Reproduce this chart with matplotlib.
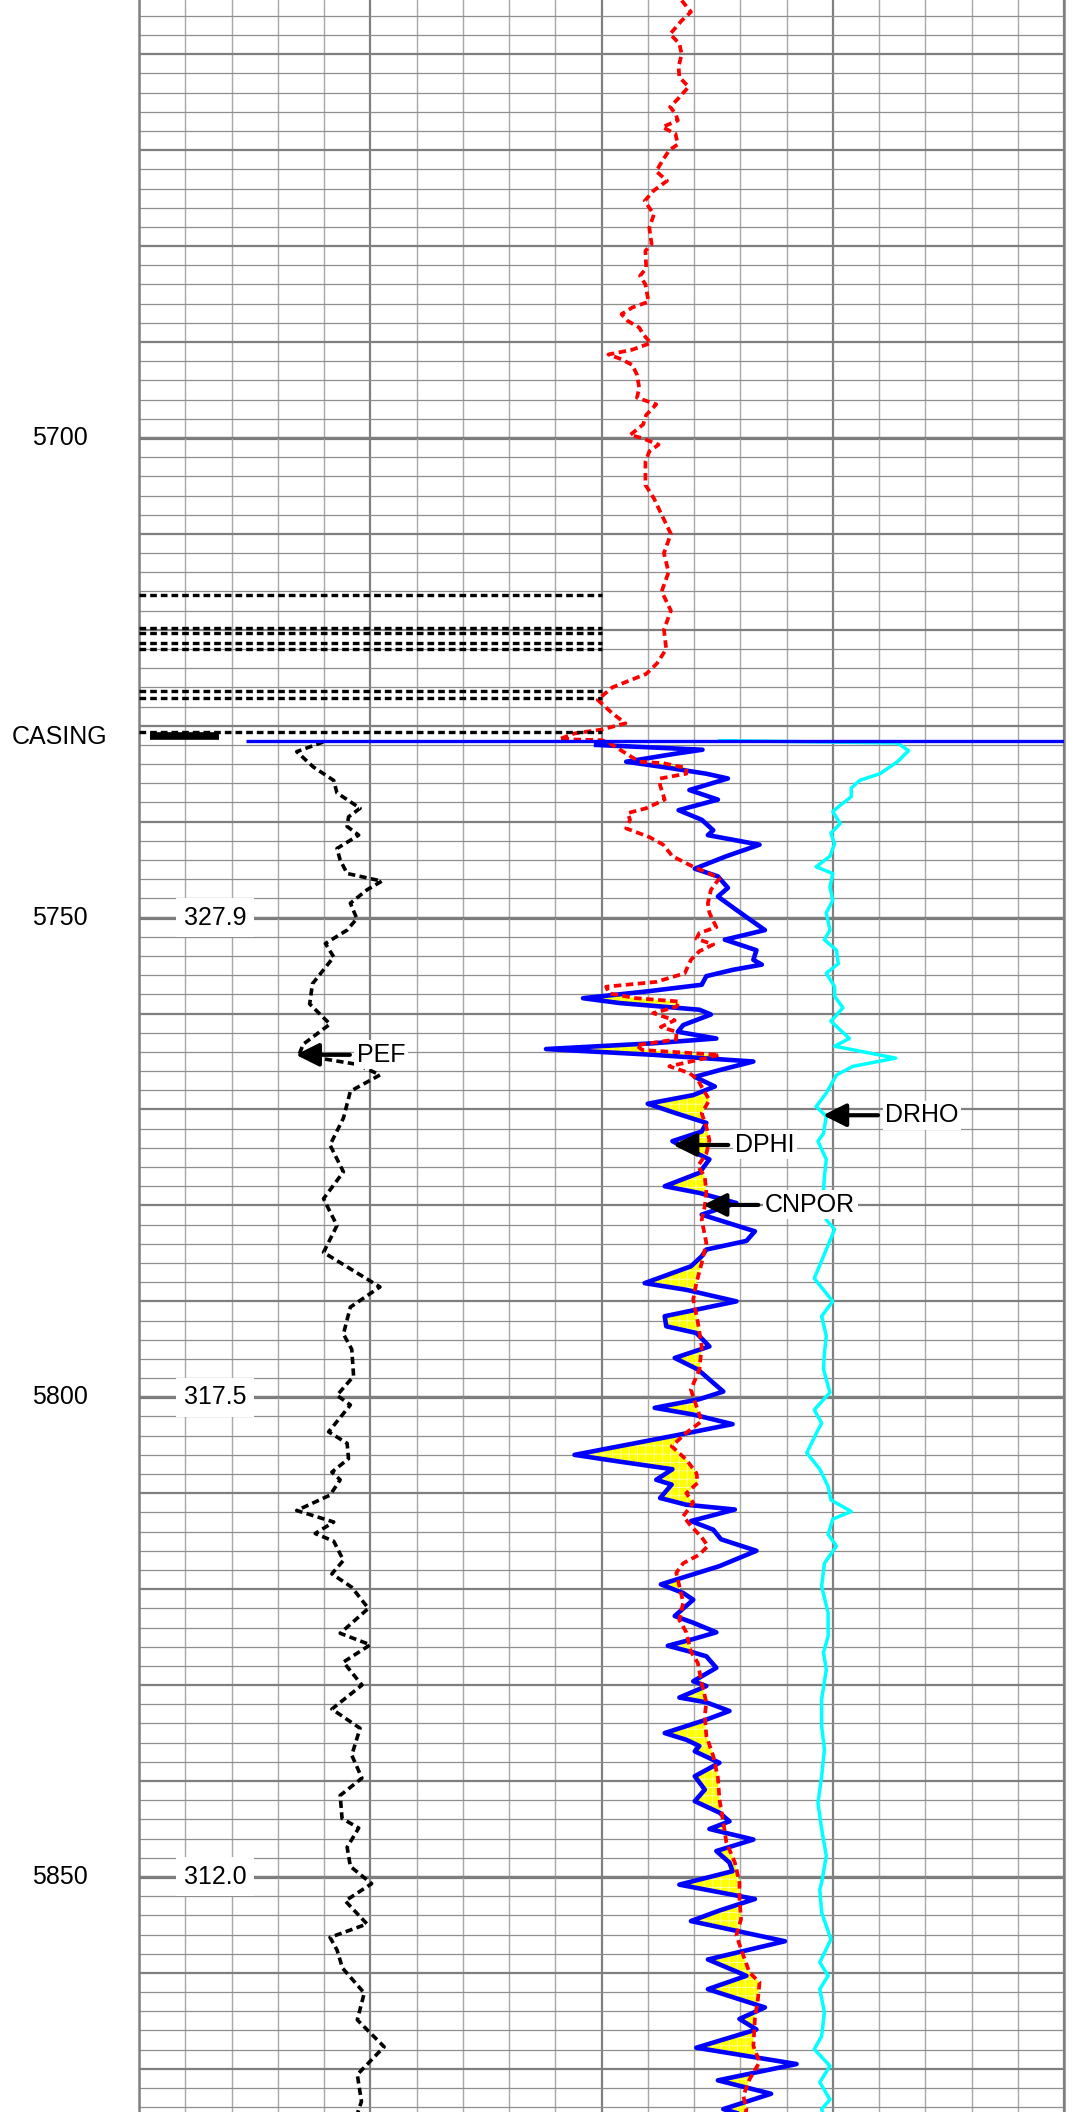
import numpy as np
import matplotlib.pyplot as plt
from matplotlib.ticker import MultipleLocator

plt.rcParams['font.family'] = ['Liberation Sans', 'DejaVu Sans']
plt.rcParams['hatch.linewidth'] = 0.6

top_depth, bottom_depth = 5654.35, 5874.5
casing_depth = 5731.55
depth_labels = [5700, 5750, 5800, 5850]
tension_labels = ['327.9', '317.5', '312.0']
tension_depths = [5750, 5800, 5850]
casing_wrap_depths = [5716.4, 5719.8, 5720.3, 5721.35, 5722.0, 5726.4, 5727.15, 5730.6]

# neutron porosity (%), scale 45 -> -15
cnpor_depth = [5654.4, 5655.6, 5656.5, 5657.9, 5658.9, 5660.0, 5661.3, 5662.4, 5663.4, 5664.5,
               5665.5, 5666.2, 5666.9, 5667.6, 5668.3, 5669.4, 5670.0, 5671.1, 5672.2, 5673.2,
               5674.2, 5675.3, 5676.7, 5678.1, 5679.8, 5680.5, 5682.3, 5683.1, 5684.0, 5685.8,
               5686.4, 5687.1, 5687.8, 5688.5, 5689.2, 5690.1, 5690.8, 5691.3, 5691.8, 5692.4,
               5693.4, 5694.8, 5695.8, 5696.5, 5697.6, 5698.6, 5699.7, 5700.0, 5700.7, 5701.4,
               5702.5, 5703.9, 5704.9, 5706.3, 5708.0, 5710.0, 5712.0, 5714.0, 5716.0, 5718.0,
               5720.0, 5722.0, 5723.5, 5724.6, 5726.0, 5727.3, 5728.7, 5729.75, 5730.4, 5730.8,
               5731.4, 5731.5, 5731.8, 5732.9, 5733.75, 5733.9, 5734.4, 5735.0, 5735.5, 5736.2,
               5737.7, 5738.6, 5739.1, 5739.8, 5740.7, 5741.6, 5742.4, 5743.6, 5744.7, 5745.4,
               5745.9, 5747.1, 5748.5, 5749.5, 5751.0, 5751.6, 5752.2, 5752.8, 5753.5, 5754.4,
               5755.8, 5756.7, 5757.2, 5757.9, 5758.4, 5758.75, 5759.3, 5759.96, 5760.7, 5761.4,
               5761.9, 5762.7, 5763.3, 5763.8, 5764.3, 5764.8, 5765.5, 5766.2, 5766.9, 5767.8,
               5769.0, 5770.4, 5771.8, 5773.2, 5774.6, 5775.9, 5777.0, 5778.7, 5780.1, 5781.5,
               5783.9, 5786.0, 5788.1, 5789.8, 5792.2, 5794.7, 5797.1, 5799.2, 5800.9, 5802.5,
               5803.7, 5805.1, 5806.5, 5807.9, 5808.9, 5810.0, 5811.0, 5812.4, 5813.4, 5814.6,
               5815.5, 5816.4, 5817.3, 5818.3, 5819.7, 5821.4, 5823.2, 5824.5, 5826.5, 5827.7,
               5829.8, 5831.8, 5833.2, 5835.3, 5837.4, 5839.65, 5841.9, 5844.3, 5846.4, 5848.5,
               5850.6, 5852.3, 5854.4, 5856.1, 5858.2, 5859.96, 5861.0, 5862.7, 5864.8, 5867.6,
               5869.3, 5871.1, 5872.8, 5874.2, 5875.0]
cnpor = [34.6, 33.4, 34.6, 36.1, 34.9, 34.6, 35.0, 34.9, 33.7, 34.9,
         36.1, 35.4, 35.1, 37.1, 35.4, 35.1, 36.2, 37.1, 37.9, 36.5,
         38.2, 39.4, 38.2, 38.8, 38.5, 39.3, 39.2, 40.0, 39.3, 38.9,
         41.0, 42.4, 41.6, 40.1, 39.6, 38.6, 41.0, 44.1, 42.4, 41.0,
         40.4, 40.1, 40.4, 37.9, 39.2, 39.6, 41.3, 39.8, 37.6, 38.8,
         39.3, 39.3, 39.3, 38.2, 37.2, 36.0, 36.9, 36.3, 37.2, 36.0,
         36.9, 36.6, 37.8, 39.2, 43.6, 45.5, 43.6, 41.9, 45.0, 48.5,
         50.5, 45.0, 44.0, 41.8, 40.1, 37.0, 34.0, 34.0, 37.4, 37.4,
         36.8, 39.2, 41.6, 41.3, 41.8, 38.8, 37.0, 35.8, 33.1, 31.0,
         29.7, 30.8, 31.2, 31.0, 30.1, 32.3, 32.7, 30.5, 32.3, 33.4,
         34.2, 37.9, 44.4, 44.0, 40.5, 34.9, 35.3, 38.3, 35.5, 37.3,
         35.3, 35.3, 40.5, 39.7, 29.7, 32.3, 36.2, 33.6, 32.5, 31.9,
         31.0, 32.0, 31.4, 31.0, 31.4, 32.5, 31.6, 31.4, 31.6, 32.0,
         31.4, 32.0, 32.7, 33.1, 32.5, 32.0, 32.3, 33.4, 32.7, 32.0,
         34.0, 35.9, 34.0, 32.7, 32.5, 34.0, 33.1, 34.4, 33.4, 32.0,
         31.2, 32.3, 34.4, 35.3, 34.9, 34.4, 34.9, 34.0, 33.4, 32.5,
         32.0, 31.4, 31.6, 31.4, 30.5, 29.9, 29.7, 29.2, 28.8, 27.7,
         27.1, 27.1, 26.9, 27.5, 26.6, 25.8, 24.5, 24.7, 25.1, 25.3,
         24.5, 25.8, 26.6, 26.2, 26.4]

# density porosity (%), scale 45 -> -15
dphi_depth = [5732.0, 5732.5, 5732.9, 5733.75, 5734.3, 5735.0, 5735.5, 5736.7, 5737.7, 5738.8,
              5739.8, 5740.9, 5741.4, 5742.4, 5743.6, 5744.9, 5745.7, 5746.9, 5747.8, 5749.2,
              5751.3, 5752.3, 5753.4, 5754.4, 5754.9, 5755.45, 5756.1, 5757.0, 5757.7, 5758.4,
              5758.9, 5759.6, 5760.1, 5761.2, 5761.9, 5762.6, 5763.1, 5763.7, 5764.3, 5765.0,
              5765.9, 5766.6, 5767.6, 5768.5, 5769.4, 5770.4, 5771.4, 5772.3, 5773.3, 5773.9,
              5775.2, 5776.6, 5778.0, 5778.7, 5779.75, 5780.96, 5782.7, 5783.7, 5784.6, 5785.3,
              5786.35, 5788.1, 5788.8, 5790.0, 5791.55, 5792.6, 5793.3, 5794.7, 5795.9, 5797.1,
              5799.4, 5800.2, 5801.1, 5801.8, 5802.8, 5803.9, 5806.0, 5806.7, 5807.5, 5808.6,
              5809.1, 5810.5, 5811.2, 5811.7, 5812.9, 5813.8, 5814.8, 5816.0, 5817.6, 5819.5,
              5820.4, 5821.1, 5822.8, 5823.5, 5824.5, 5825.2, 5825.9, 5826.6, 5827.0, 5828.2,
              5829.6, 5830.1, 5831.3, 5831.8, 5832.7, 5833.6, 5835.0, 5835.7, 5836.35, 5836.9,
              5838.1, 5839.5, 5840.9, 5842.1, 5843.3, 5844.2, 5845.0, 5846.1, 5847.3, 5848.5,
              5849.4, 5850.8, 5852.3, 5853.5, 5854.6, 5856.7, 5858.6, 5860.3, 5861.7, 5863.6,
              5864.8, 5865.9, 5867.8, 5869.5, 5871.2, 5872.6, 5874.2, 5875.0]
dphi = [45.7, 31.9, 35.3, 41.8, 37.0, 31.4, 28.6, 33.6, 29.9, 35.0,
        32.0, 30.5, 31.2, 24.5, 28.8, 32.9, 29.9, 28.6, 29.9, 27.5,
        23.8, 29.0, 24.9, 25.3, 24.2, 28.0, 31.4, 32.0, 39.2, 47.4,
        42.7, 32.3, 30.8, 34.4, 35.1, 30.1, 38.3, 52.2, 38.3, 25.3,
        29.7, 32.9, 30.3, 33.1, 39.0, 35.3, 31.4, 32.0, 35.8, 34.4,
        31.0, 32.3, 36.8, 32.3, 27.5, 32.0, 25.1, 26.2, 31.4, 32.0,
        33.4, 39.4, 34.0, 27.5, 36.8, 36.6, 32.7, 31.0, 35.5, 32.5,
        29.2, 32.3, 38.1, 33.1, 28.0, 34.9, 48.5, 42.7, 35.8, 37.9,
        35.9, 37.4, 34.0, 27.7, 33.4, 30.5, 29.5, 24.9, 29.7, 37.3,
        34.4, 33.1, 35.5, 33.1, 30.1, 33.1, 36.4, 33.1, 31.4, 30.1,
        33.1, 31.4, 34.9, 31.4, 28.4, 31.4, 36.8, 34.0, 32.3, 32.9,
        29.7, 32.9, 31.6, 32.9, 29.7, 28.4, 31.0, 25.3, 30.1, 28.4,
        28.0, 34.9, 25.1, 29.7, 33.4, 21.2, 31.2, 26.2, 31.2, 23.8,
        27.1, 24.9, 32.7, 19.7, 29.9, 23.0, 29.2, 25.8]

# density correction (g/cc), scale -0.25 -> 0.25
drho_depth = [5731.55, 5731.8, 5732.6, 5733.75, 5735.0, 5735.7, 5736.5, 5737.4, 5738.3, 5738.95,
              5740.2, 5741.2, 5742.3, 5743.6, 5744.7, 5745.4, 5746.8, 5748.2, 5749.5, 5751.3,
              5752.3, 5753.4, 5754.8, 5755.8, 5757.2, 5758.2, 5759.4, 5760.8, 5762.6, 5763.4,
              5764.65, 5765.5, 5766.4, 5768.3, 5769.7, 5770.7, 5772.5, 5773.3, 5775.2, 5777.0,
              5778.4, 5781.5, 5782.5, 5785.3, 5787.6, 5788.8, 5790.0, 5791.55, 5793.6, 5795.4,
              5797.1, 5799.5, 5801.3, 5802.7, 5803.4, 5805.8, 5807.5, 5809.3, 5810.7, 5811.9,
              5812.7, 5814.3, 5815.5, 5817.3, 5819.7, 5822.5, 5824.9, 5826.6, 5828.4, 5831.5,
              5834.3, 5836.7, 5839.5, 5842.3, 5845.0, 5847.8, 5850.6, 5851.3, 5853.7, 5856.5,
              5858.9, 5860.3, 5861.7, 5864.1, 5866.6, 5867.95, 5869.7, 5871.4, 5873.2, 5874.2,
              5875.0]
drho = [-0.122, 0.070, 0.082, 0.070, 0.051, 0.029, 0.020, 0.020, 0.008, 0.000,
        0.008, -0.002, 0.002, -0.003, -0.018, 0.000, -0.003, 0.000, -0.007, -0.003,
        -0.009, 0.004, 0.006, -0.007, 0.002, 0.002, 0.011, -0.002, 0.018, 0.002,
        0.068, 0.022, 0.004, -0.007, -0.018, -0.007, -0.010, -0.016, -0.007, -0.009,
        -0.010, -0.007, 0.002, -0.010, -0.020, -0.010, 0.000, -0.012, -0.007, -0.009,
        -0.010, -0.003, -0.020, -0.012, -0.016, -0.028, -0.014, -0.005, -0.002, 0.020,
        0.000, -0.005, 0.004, -0.009, -0.012, -0.005, -0.005, -0.010, -0.007, -0.012,
        -0.012, -0.009, -0.012, -0.016, -0.012, -0.007, -0.012, -0.014, -0.012, -0.002,
        -0.014, -0.005, -0.014, -0.009, -0.012, -0.020, -0.003, -0.014, -0.003, -0.012,
        -0.010]

# photoelectric factor (b/e), scale 0 -> 10
pef_depth = [5731.7, 5732.7, 5734.3, 5735.7, 5737.0, 5737.7, 5738.6, 5739.5, 5740.5, 5741.4,
             5742.8, 5744.0, 5745.4, 5746.2, 5747.1, 5748.5, 5750.1, 5751.3, 5752.7, 5754.1,
             5756.9, 5759.0, 5761.1, 5763.2, 5764.3, 5765.3, 5766.4, 5768.1, 5770.9, 5773.7,
             5776.5, 5779.3, 5782.1, 5784.9, 5788.5, 5790.6, 5793.4, 5795.0, 5797.8, 5799.8,
             5800.8, 5803.6, 5804.8, 5806.4, 5807.8, 5808.6, 5810.2, 5811.8, 5813.0, 5814.2,
             5815.0, 5817.0, 5818.4, 5819.8, 5822.0, 5824.6, 5825.8, 5827.6, 5830.0, 5832.5,
             5834.5, 5837.3, 5839.7, 5841.5, 5843.9, 5844.9, 5846.9, 5848.9, 5850.7, 5852.5,
             5854.9, 5856.3, 5857.6, 5859.5, 5862.1, 5864.9, 5867.7, 5870.6, 5873.4, 5875.0]
pef = [3.98, 3.41, 3.77, 4.21, 4.28, 4.50, 4.78, 4.53, 4.50, 4.75,
       4.28, 4.35, 4.50, 5.25, 4.93, 4.57, 4.71, 4.50, 4.03, 4.21,
       3.75, 3.69, 4.13, 3.55, 3.46, 4.72, 5.21, 4.57, 4.42, 4.13,
       4.42, 3.99, 4.28, 3.99, 5.21, 4.57, 4.42, 4.60, 4.64, 4.28,
       4.57, 4.10, 4.50, 4.53, 4.17, 4.35, 4.13, 3.41, 4.21, 3.81,
       4.21, 4.42, 4.17, 4.60, 4.96, 4.35, 5.00, 4.42, 4.82, 4.17,
       4.78, 4.60, 4.82, 4.35, 4.39, 4.75, 4.50, 4.57, 5.03, 4.46,
       4.93, 4.13, 4.28, 4.40, 4.87, 4.72, 5.30, 4.72, 4.81, 4.70]

fig = plt.figure(figsize=(10.78, 21.12), dpi=100)

# main grid axes: two tracks of 10 divisions each
ax = fig.add_axes([139 / 1078, 0, 925 / 1078, 1])
ax.set_xlim(0, 20)
ax.set_ylim(bottom_depth, top_depth)
ax.xaxis.set_major_locator(MultipleLocator(5))
ax.xaxis.set_minor_locator(MultipleLocator(1))
ax.yaxis.set_major_locator(MultipleLocator(10))
ax.yaxis.set_minor_locator(MultipleLocator(2))
ax.xaxis.grid(True, which='minor', color='#a8a8a8', lw=1.0)
ax.xaxis.grid(True, which='major', color='#808080', lw=1.6)
ax.yaxis.grid(True, which='minor', color='#8e8e8e', lw=0.9)
ax.yaxis.grid(True, which='major', color='#7f7f7f', lw=1.6)
ax.tick_params(which='both', length=0, labelleft=False, labelbottom=False)
for s in ['top', 'bottom']:
    ax.spines[s].set_visible(False)
for s in ['left', 'right']:
    ax.spines[s].set_color('#808080')
    ax.spines[s].set_linewidth(1.8)
for d in depth_labels:
    ax.axhline(d, color='#7a7a7a', lw=2.3, zorder=0.5)


def twin(lims):
    t = ax.twiny()
    t.set_xlim(*lims)
    t.axis('off')
    return t


ax_drho = twin((-0.75, 0.25))
ax_phi = twin((105, -15))
ax_pef = twin((0, 20))

# DRHO
ax_drho.plot(drho, drho_depth, color='#00ffff', lw=2.5)

# crossover shading between DPHI and CNPOR
d_fine = np.arange(casing_depth, bottom_depth + 0.5, 0.05)
dphi_i = np.interp(d_fine, dphi_depth, dphi)
cnpor_i = np.interp(d_fine, cnpor_depth, cnpor)
ax_phi.fill_betweenx(d_fine, dphi_i, cnpor_i, where=dphi_i > cnpor_i, interpolate=True,
                     facecolor='#ffff00', edgecolor='#ffffb0', hatch='++', lw=0, zorder=1)
ax_phi.plot(dphi, dphi_depth, color='#0000ff', lw=3.3, zorder=3)
ax_phi.plot(cnpor, cnpor_depth, color='#ff0000', lw=2.7, ls=(0, (2.0, 1.2)), zorder=4)

# PEF and casing marks
ax_pef.hlines(casing_wrap_depths, 0, 10, colors='black', lw=2.4, linestyles=(0, (2.0, 1.2)))
ax_pef.plot(pef, pef_depth, color='black', lw=2.6, ls=(0, (2.0, 1.2)))
ax_pef.hlines(casing_depth, 2.31, 20, colors='#0000ff', lw=2.4)
ax_pef.hlines(casing_depth - 0.45, 0.24, 1.73, colors='black', lw=5.5)

# depth track text
for d in depth_labels:
    ax_pef.text(-1.71, d, str(d), ha='center', va='center', fontsize=18, clip_on=False)
ax_pef.text(-1.71, casing_depth - 0.35, 'CASING', ha='center', va='center', fontsize=18, clip_on=False)
for lab, d in zip(tension_labels, tension_depths):
    ax_pef.text(1.64, d, lab, ha='center', va='center', fontsize=18,
                bbox=dict(facecolor='white', edgecolor='none', boxstyle='square,pad=0.3'))

# curve name labels with arrows
curve_names = ['PEF', 'DRHO', 'DPHI', 'CNPOR']
name_depths = [5764.3, 5770.6, 5773.7, 5779.95]
name_x = [4.71, 16.13, 12.89, 13.54]
arrow_tip = [3.39, 14.79, 11.55, 12.2]
for name, d, x0, tip in zip(curve_names, name_depths, name_x, arrow_tip):
    ax_pef.text(x0, d, name, ha='left', va='center', fontsize=18, zorder=6,
                bbox=dict(facecolor='white', edgecolor='none', boxstyle='square,pad=0.1'))
    ax_pef.annotate('', xy=(tip, d), xytext=(x0 - 0.15, d), zorder=7,
                    arrowprops=dict(arrowstyle='-|>,head_length=0.7,head_width=0.35', color='black',
                                    lw=3, mutation_scale=20, shrinkA=0, shrinkB=0))

fig.savefig('out.png', dpi=100, facecolor='white')
